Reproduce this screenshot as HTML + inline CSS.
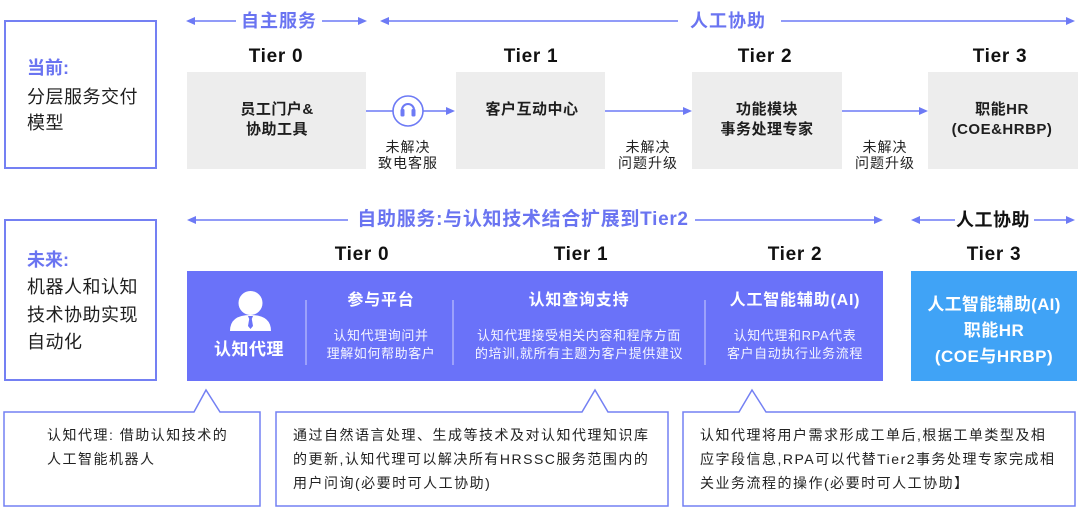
<!DOCTYPE html>
<html><head><meta charset="utf-8">
<style>
*{box-sizing:border-box}
body{margin:0;width:1080px;height:513px;position:relative;overflow:hidden;background:#fff;font-family:"Liberation Sans","Noto Sans CJK SC",sans-serif;color:#1b1b1b}
.a{position:absolute;white-space:nowrap;line-height:24px;height:24px}
.c{width:300px;text-align:center}
.blue{color:#6a74f1;font-weight:bold}
.tier{font-size:19px;font-weight:bold;letter-spacing:0.7px;color:#111}
.bx{font-size:15px;font-weight:bold;letter-spacing:0.5px;color:#1e1e1e}
.lb{font-size:14px;letter-spacing:1px;color:#222}
.lt{font-size:18px;letter-spacing:0.5px;color:#1e1e1e}
.w{color:#fff;font-weight:bold}
.sub{font-size:13px;letter-spacing:0.6px;color:rgba(255,255,255,0.93)}
.co{font-size:14px;letter-spacing:1.5px;color:#222}
</style></head><body>
<svg width="1080" height="513" style="position:absolute;left:0;top:0">
  <rect x="5" y="21" width="151" height="147" fill="none" stroke="#7480f3" stroke-width="2"/>
  <rect x="5" y="220" width="151" height="160" fill="none" stroke="#7480f3" stroke-width="2"/>
  <rect x="187" y="72" width="179" height="97" fill="#ededed"/>
  <rect x="456" y="72" width="149" height="97" fill="#ededed"/>
  <rect x="692" y="72" width="150" height="97" fill="#ededed"/>
  <rect x="928" y="72" width="150" height="97" fill="#ededed"/>
  <g stroke="#6d7af5" stroke-width="1.5" fill="none">
    <line x1="192" y1="21" x2="236" y2="21"/>
    <line x1="322" y1="21" x2="360" y2="21"/>
    <line x1="386" y1="21" x2="678" y2="21"/>
    <line x1="781" y1="21" x2="1068" y2="21"/>
    <line x1="193" y1="220" x2="348" y2="220"/>
    <line x1="695" y1="220" x2="876" y2="220"/>
    <line x1="917" y1="220" x2="955" y2="220"/>
    <line x1="1034" y1="220" x2="1068" y2="220"/>
    <line x1="366" y1="111" x2="393" y2="111"/>
    <line x1="423" y1="111" x2="447" y2="111"/>
    <line x1="605" y1="111" x2="684" y2="111"/>
    <line x1="842" y1="111" x2="920" y2="111"/>
  </g>
  <g fill="#6d7af5">
    <polygon points="186,21 195,17 195,25"/>
    <polygon points="367,21 358,17 358,25"/>
    <polygon points="380,21 389,17 389,25"/>
    <polygon points="1075,21 1066,17 1066,25"/>
    <polygon points="187,220 196,216 196,224"/>
    <polygon points="883,220 874,216 874,224"/>
    <polygon points="911,220 920,216 920,224"/>
    <polygon points="1075,220 1066,216 1066,224"/>
    <polygon points="455,111 446,107 446,115"/>
    <polygon points="692,111 683,107 683,115"/>
    <polygon points="928,111 919,107 919,115"/>
  </g>
  <circle cx="408" cy="111" r="15" fill="#fff" stroke="#6d7af5" stroke-width="1.6"/>
  <path d="M402,112 v-2 a6,6 0 0 1 12,0 v2" fill="none" stroke="#6d7af5" stroke-width="2"/>
  <rect x="400.5" y="109" width="4" height="7.5" rx="1.2" fill="#6d7af5"/>
  <rect x="411.5" y="109" width="4" height="7.5" rx="1.2" fill="#6d7af5"/>
  <rect x="187" y="271" width="696" height="110" fill="#6a72f9"/>
  <rect x="911" y="271" width="166" height="110" fill="#40a3f6"/>
  <g stroke="rgba(255,255,255,0.45)" stroke-width="1.5">
    <line x1="306" y1="300" x2="306" y2="365"/>
    <line x1="453" y1="300" x2="453" y2="365"/>
    <line x1="705" y1="300" x2="705" y2="365"/>
  </g>
  <circle cx="250.5" cy="303" r="12" fill="#fff"/>
  <path d="M230,331 Q230,315 250.5,315 Q271,315 271,331 Z" fill="#fff"/>
  <polygon points="248,316 253,316 251.8,319 253,326 250.5,329 248,326 249.2,319" fill="#6a72f9"/>
  <g fill="#fff" stroke="#7480f3" stroke-width="1.5">
    <path d="M4,412 L194,412 L206,390 L220,412 L260,412 L260,506 L4,506 Z"/>
    <path d="M276,412 L582,412 L595,390 L608,412 L668,412 L668,506 L276,506 Z"/>
    <path d="M683,412 L739,412 L752,390 L766,412 L1075,412 L1075,506 L683,506 Z"/>
  </g>
</svg>

<div class="a c blue" style="left:129px;top:9px;font-size:18px;letter-spacing:1px">自主服务</div>
<div class="a c blue" style="left:578px;top:9px;font-size:18px;letter-spacing:1px">人工协助</div>

<div class="a c tier" style="left:126px;top:45px">Tier 0</div>
<div class="a c tier" style="left:381px;top:45px">Tier 1</div>
<div class="a c tier" style="left:615px;top:45px">Tier 2</div>
<div class="a c tier" style="left:850px;top:45px">Tier 3</div>

<div class="a blue" style="left:27px;top:56px;font-size:18px">当前:</div>
<div class="a lt" style="left:27px;top:85px">分层服务交付</div>
<div class="a lt" style="left:27px;top:111px">模型</div>

<div class="a c bx" style="left:127px;top:98px">员工门户&amp;</div>
<div class="a c bx" style="left:127px;top:118px">协助工具</div>
<div class="a c bx" style="left:382px;top:98px">客户互动中心</div>
<div class="a c bx" style="left:617px;top:98px">功能模块</div>
<div class="a c bx" style="left:617px;top:118px">事务处理专家</div>
<div class="a c bx" style="left:852px;top:98px">职能HR</div>
<div class="a c bx" style="left:852px;top:118px">(COE&amp;HRBP)</div>

<div class="a c lb" style="left:258px;top:135px">未解决</div>
<div class="a c lb" style="left:258px;top:151px">致电客服</div>
<div class="a c lb" style="left:498px;top:135px">未解决</div>
<div class="a c lb" style="left:498px;top:151px">问题升级</div>
<div class="a c lb" style="left:735px;top:135px">未解决</div>
<div class="a c lb" style="left:735px;top:151px">问题升级</div>

<div class="a blue" style="left:223px;top:208px;width:600px;text-align:center;font-size:19px;letter-spacing:0.7px">自助服务:与认知技术结合扩展到Tier2</div>
<div class="a c" style="left:843px;top:208px;font-size:18px;font-weight:bold;color:#111;letter-spacing:0.5px">人工协助</div>

<div class="a c tier" style="left:212px;top:243px">Tier 0</div>
<div class="a c tier" style="left:431px;top:243px">Tier 1</div>
<div class="a c tier" style="left:645px;top:243px">Tier 2</div>
<div class="a c tier" style="left:844px;top:243px">Tier 3</div>

<div class="a blue" style="left:27px;top:248px;font-size:18px">未来:</div>
<div class="a lt" style="left:27px;top:275px">机器人和认知</div>
<div class="a lt" style="left:27px;top:303px">技术协助实现</div>
<div class="a lt" style="left:27px;top:330px">自动化</div>

<div class="a c w" style="left:99px;top:338px;font-size:17px;letter-spacing:0.5px">认知代理</div>
<div class="a c w" style="left:231px;top:289px;font-size:16px;letter-spacing:0.8px">参与平台</div>
<div class="a c sub" style="left:231px;top:324px">认知代理询问并</div>
<div class="a c sub" style="left:231px;top:342px">理解如何帮助客户</div>
<div class="a c w" style="left:429px;top:289px;font-size:16px;letter-spacing:0.8px">认知查询支持</div>
<div class="a c sub" style="left:429px;top:324px">认知代理接受相关内容和程序方面</div>
<div class="a c sub" style="left:429px;top:342px">的培训,就所有主题为客户提供建议</div>
<div class="a c w" style="left:645px;top:289px;font-size:16px;letter-spacing:0.8px">人工智能辅助(AI)</div>
<div class="a c sub" style="left:645px;top:324px">认知代理和RPA代表</div>
<div class="a c sub" style="left:645px;top:342px">客户自动执行业务流程</div>

<div class="a c w" style="left:844px;top:293px;font-size:17px;letter-spacing:0.3px">人工智能辅助(AI)</div>
<div class="a c w" style="left:844px;top:319px;font-size:17px;letter-spacing:0.5px">职能HR</div>
<div class="a c w" style="left:844px;top:345px;font-size:17px;letter-spacing:0.5px">(COE与HRBP)</div>

<div class="a co" style="left:47px;top:423px">认知代理: 借助认知技术的</div>
<div class="a co" style="left:47px;top:447px">人工智能机器人</div>

<div class="a co" style="left:293px;top:423px">通过自然语言处理、生成等技术及对认知代理知识库</div>
<div class="a co" style="left:293px;top:447px">的更新,认知代理可以解决所有HRSSC服务范围内的</div>
<div class="a co" style="left:293px;top:471px">用户问询(必要时可人工协助)</div>

<div class="a co" style="left:700px;top:423px">认知代理将用户需求形成工单后,根据工单类型及相</div>
<div class="a co" style="left:700px;top:447px">应字段信息,RPA可以代替Tier2事务处理专家完成相</div>
<div class="a co" style="left:700px;top:471px">关业务流程的操作(必要时可人工协助】</div>
</body></html>
